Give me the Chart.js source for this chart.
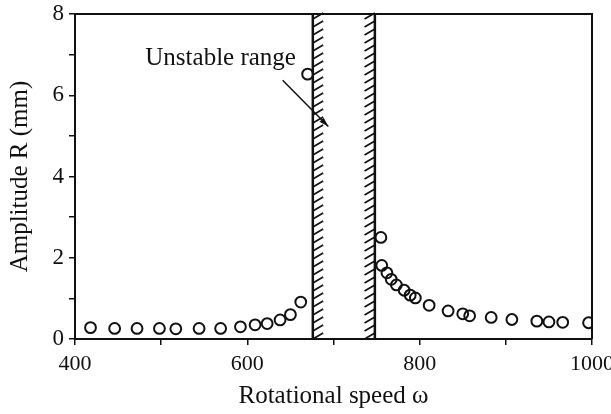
<!DOCTYPE html>
<html>
<head>
<meta charset="utf-8">
<script src="https://cdn.jsdelivr.net/npm/chart.js@4.4.1/dist/chart.umd.min.js"></script>
<style>
  html, body { margin: 0; padding: 0; background: #fff; }
  #wrap { width: 611px; height: 414px; }
</style>
</head>
<body>
<div id="wrap"><canvas id="myChart"></canvas></div>
<script>
// values
const leftSpeed = [418, 446, 472, 498, 517, 544, 569, 592, 609, 623, 638, 650, 662, 670];
const leftAmp = [0.28, 0.26, 0.26, 0.26, 0.25, 0.26, 0.26, 0.30, 0.35, 0.38, 0.47, 0.60, 0.91, 6.52];
const rightSpeed = [755, 756, 762, 767, 773, 782, 789, 795, 811, 833, 850, 858, 883, 907, 936, 950, 966, 996];
const rightAmp = [2.50, 1.81, 1.63, 1.47, 1.33, 1.20, 1.08, 1.01, 0.83, 0.69, 0.62, 0.57, 0.53, 0.48, 0.44, 0.42, 0.41, 0.40];

// unstable range borders (speed) and hatch depth
const unstableEdges = [676, 748];
const hatchDepth = 12;
const xTickLabels = [400, 600, 800, 1000];
const yTickLabels = [0, 2, 4, 6, 8];

const noteText = 'Unstable range';
const notePos = [569, 6.74];
const arrowFrom = [641, 6.37];
const arrowTo = [694, 5.23];

const serif = '"Liberation Serif", "Times New Roman", serif';

const toPoints = (xs, ys) => xs.map((x, i) => ({ x: x, y: ys[i] }));

const frameAndNotes = {
    id: 'frameAndNotes',
    afterDatasetsDraw(chart) {
        const ctx = chart.ctx;
        const a = chart.chartArea;
        const xs = chart.scales.x;
        const ys = chart.scales.y;
        ctx.save();
        ctx.strokeStyle = '#111';
        ctx.fillStyle = '#111';

        // top and right frame
        ctx.lineWidth = 2;
        ctx.beginPath();
        ctx.moveTo(a.left, a.top);
        ctx.lineTo(a.right, a.top);
        ctx.lineTo(a.right, a.bottom);
        ctx.stroke();

        // hatched walls of the unstable range
        unstableEdges.forEach((edge, k) => {
            const xl = xs.getPixelForValue(edge);
            const inner = xs.getPixelForValue(k === 0 ? edge + hatchDepth : edge - hatchDepth);
            ctx.lineWidth = 2.5;
            ctx.beginPath();
            ctx.moveTo(xl, a.top);
            ctx.lineTo(xl, a.bottom);
            ctx.stroke();
            const x0 = Math.min(xl, inner), x1 = Math.max(xl, inner);
            ctx.lineWidth = 1.7;
            ctx.beginPath();
            for (let y = a.bottom; y > a.top + 4; y -= 8) {
                ctx.moveTo(x0, y);
                ctx.lineTo(x1, y - 6);
            }
            ctx.stroke();
        });

        // note and arrow
        ctx.font = '25px ' + serif;
        ctx.textAlign = 'center';
        ctx.textBaseline = 'alphabetic';
        ctx.fillText(noteText, xs.getPixelForValue(notePos[0]), ys.getPixelForValue(notePos[1]));

        const ax = xs.getPixelForValue(arrowFrom[0]), ay = ys.getPixelForValue(arrowFrom[1]);
        const bx = xs.getPixelForValue(arrowTo[0]), by = ys.getPixelForValue(arrowTo[1]);
        ctx.lineWidth = 1.5;
        ctx.beginPath();
        ctx.moveTo(ax, ay);
        ctx.lineTo(bx, by);
        ctx.stroke();
        const ang = Math.atan2(by - ay, bx - ax);
        ctx.beginPath();
        ctx.moveTo(bx, by);
        ctx.lineTo(bx - 10 * Math.cos(ang - 0.3), by - 10 * Math.sin(ang - 0.3));
        ctx.lineTo(bx - 10 * Math.cos(ang + 0.3), by - 10 * Math.sin(ang + 0.3));
        ctx.closePath();
        ctx.fill();
        ctx.restore();
    }
};

const renderChart = () => {
    const ctx = document.getElementById('myChart').getContext('2d');
    const pointStyle = {
        showLine: false,
        pointStyle: 'circle',
        pointRadius: 5.4,
        pointBorderWidth: 2,
        pointBorderColor: '#111',
        pointBackgroundColor: 'rgba(0,0,0,0)'
    };

    new Chart(ctx, {
        type: 'scatter',
        data: {
            datasets: [
                Object.assign({ label: 'below', data: toPoints(leftSpeed, leftAmp) }, pointStyle),
                Object.assign({ label: 'above', data: toPoints(rightSpeed, rightAmp) }, pointStyle)
            ]
        },
        options: {
            responsive: false,
            animation: false,
            devicePixelRatio: 1,
            layout: { padding: { top: 14, right: 19, left: 0, bottom: 0 } },
            plugins: {
                legend: { display: false },
                tooltip: { enabled: false }
            },
            scales: {
                x: {
                    type: 'linear',
                    min: 400,
                    max: 1000,
                    afterFit(scale) {
                        scale.height = 75;
                        scale.paddingLeft = 0;
                        scale.paddingRight = 0;
                    },
                    ticks: {
                        stepSize: 100,
                        color: '#111',
                        padding: 6,
                        maxRotation: 0,
                        font: { family: serif, size: 22 },
                        callback: (v) => xTickLabels.includes(v) ? String(v) : ''
                    },
                    grid: { drawOnChartArea: false, drawTicks: true, tickLength: 6, color: '#111', lineWidth: 1.5 },
                    border: { display: true, color: '#111', width: 2 },
                    title: {
                        display: true,
                        text: 'Rotational speed ω',
                        color: '#111',
                        font: { family: serif, size: 25 },
                        padding: { top: 0, bottom: 3 }
                    }
                },
                y: {
                    type: 'linear',
                    min: 0,
                    max: 8,
                    afterFit(scale) {
                        scale.width = 75;
                        scale.paddingTop = 0;
                        scale.paddingBottom = 0;
                    },
                    ticks: {
                        stepSize: 1,
                        color: '#111',
                        padding: 5,
                        font: { family: serif, size: 23 },
                        callback: (v) => yTickLabels.includes(v) ? String(v) : ''
                    },
                    grid: { drawOnChartArea: false, drawTicks: true, tickLength: 6, color: '#111', lineWidth: 1.5 },
                    border: { display: true, color: '#111', width: 2 },
                    title: {
                        display: true,
                        text: 'Amplitude R (mm)',
                        color: '#111',
                        font: { family: serif, size: 25 },
                        padding: { top: 5, bottom: 0 }
                    }
                }
            }
        },
        plugins: [frameAndNotes]
    });
};

document.getElementById('myChart').width = 611;
document.getElementById('myChart').height = 414;
document.addEventListener('DOMContentLoaded', renderChart);
</script>
</body>
</html>
